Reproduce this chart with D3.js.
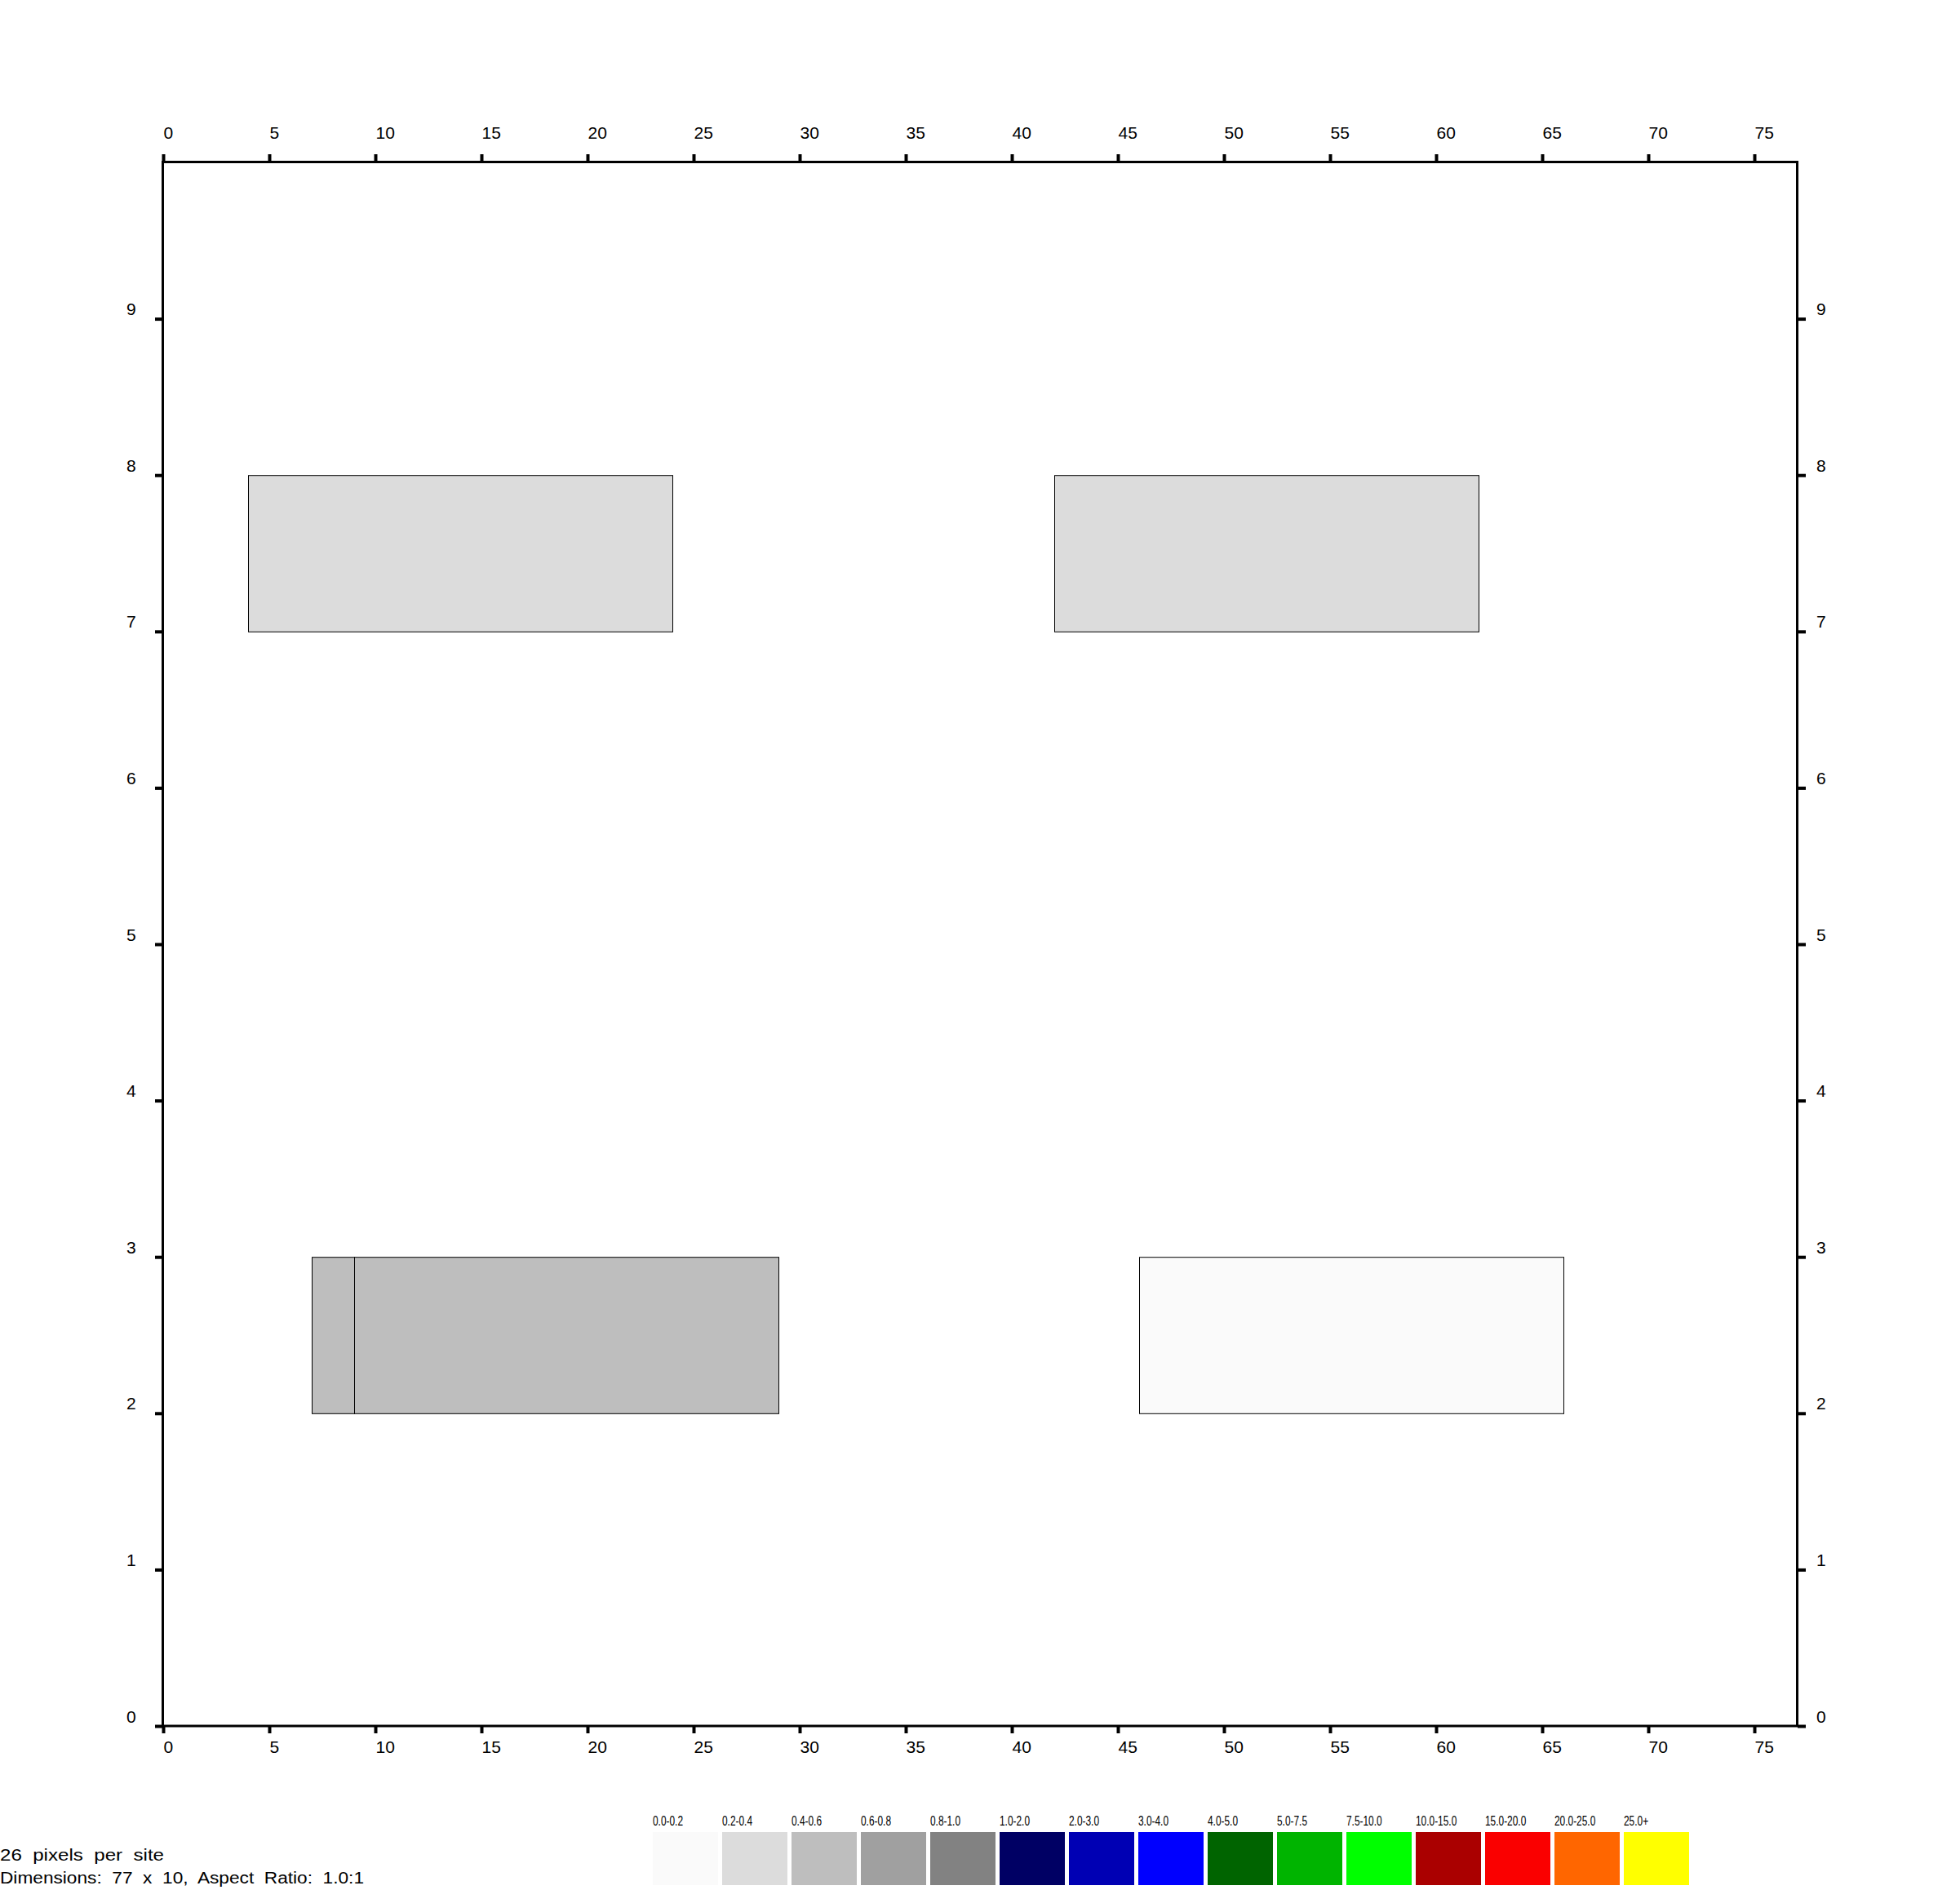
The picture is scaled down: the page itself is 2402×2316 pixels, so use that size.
<!DOCTYPE html>
<html>
<head>
<meta charset="utf-8">
<script src="https://cdn.jsdelivr.net/npm/d3@7"></script>
<style>
  html, body { margin: 0; padding: 0; background: #ffffff; }
  svg { display: block; font-family: "Liberation Sans", Arial, sans-serif; }
</style>
</head>
<body>
<svg id="chart" width="2402" height="2316"></svg>
<script>
// ---- data ----
const xTickValues = [0, 5, 10, 15, 20, 25, 30, 35, 40, 45, 50, 55, 60, 65, 70, 75];
const yTickValues = [0, 1, 2, 3, 4, 5, 6, 7, 8, 9];
const siteCountX = 77;
const siteCountY = 10;

// cells: left/right in x sites, bottom/top in y sites, legend bin
const cellX0 = [4, 42, 7, 9, 46];
const cellX1 = [24, 62, 9, 29, 66];
const cellY0 = [7, 7, 2, 2, 2];
const cellY1 = [8, 8, 3, 3, 3];
const cellBin = [1, 1, 2, 2, 0];

const legendLabels = ["0.0-0.2", "0.2-0.4", "0.4-0.6", "0.6-0.8", "0.8-1.0", "1.0-2.0", "2.0-3.0", "3.0-4.0",
  "4.0-5.0", "5.0-7.5", "7.5-10.0", "10.0-15.0", "15.0-20.0", "20.0-25.0", "25.0+"];
const legendColors = ["#fafafa", "#dcdcdc", "#bebebe", "#a0a0a0", "#828282", "#000064", "#0000b4", "#0000ff",
  "#006400", "#00b400", "#00ff00", "#aa0000", "#fa0000", "#ff6600", "#ffff00"];

const footerLines = ["26  pixels  per  site", "Dimensions:  77  x  10,  Aspect  Ratio:  1.0:1"];
const footerWidths = [201, 446];

// ---- drawing ----
const svg = d3.select("#chart");
const x = d3.scaleLinear().domain([0, siteCountX]).range([200, 2202]);
const y = d3.scaleLinear().domain([0, siteCountY]).range([2115, 199]);

// cells
svg.append("g").selectAll("rect")
  .data(cellX0.map((d, i) => i))
  .join("rect")
  .attr("x", i => x(cellX0[i]) + 0.5)
  .attr("y", i => y(cellY1[i]) + 0.5)
  .attr("width", i => x(cellX1[i]) - x(cellX0[i]))
  .attr("height", i => y(cellY0[i]) - y(cellY1[i]))
  .attr("fill", i => legendColors[cellBin[i]])
  .attr("stroke", "#000")
  .attr("stroke-width", 1);

// frame
svg.append("rect")
  .attr("x", x(0) - 0.5)
  .attr("y", y(siteCountY) - 0.5)
  .attr("width", x(siteCountX) - x(0) + 1)
  .attr("height", y(0) - y(siteCountY) + 0.5)
  .attr("fill", "none")
  .attr("stroke", "#000")
  .attr("stroke-width", 3);

function styleAxis(g) {
  g.select(".domain").remove();
  g.selectAll(".tick line").attr("stroke", "#000").attr("stroke-width", 4);
  g.selectAll(".tick text").attr("fill", "#000")
    .attr("font-family", "'Liberation Sans', Arial, sans-serif")
    .attr("font-size", 21);
}

// top axis
svg.append("g")
  .attr("transform", `translate(0,${y(siteCountY) - 1})`)
  .call(d3.axisTop(x).tickValues(xTickValues).tickSize(9).tickSizeOuter(0).tickFormat(d3.format("d")))
  .call(styleAxis)
  .call(g => g.selectAll(".tick text").attr("text-anchor", "start").attr("x", 0).attr("y", -28).attr("dy", 0));

// bottom axis
svg.append("g")
  .attr("transform", `translate(0,${y(0)})`)
  .call(d3.axisBottom(x).tickValues(xTickValues).tickSize(9).tickSizeOuter(0).tickFormat(d3.format("d")))
  .call(styleAxis)
  .call(g => g.selectAll(".tick text").attr("text-anchor", "start").attr("x", 0).attr("y", 33).attr("dy", 0));

// left axis
svg.append("g")
  .attr("transform", `translate(${x(0) - 1},0)`)
  .call(d3.axisLeft(y).tickValues(yTickValues).tickSize(9).tickSizeOuter(0).tickFormat(d3.format("d")))
  .call(styleAxis)
  .call(g => g.selectAll(".tick text").attr("text-anchor", "start").attr("x", -44).attr("y", -5).attr("dy", 0));

// right axis
svg.append("g")
  .attr("transform", `translate(${x(siteCountX) + 1},0)`)
  .call(d3.axisRight(y).tickValues(yTickValues).tickSize(10).tickSizeOuter(0).tickFormat(d3.format("d")))
  .call(styleAxis)
  .call(g => g.selectAll(".tick text").attr("text-anchor", "start").attr("x", 23).attr("y", -5).attr("dy", 0));

// legend
const legendX = d3.scaleBand().domain(legendLabels).range([800, 800 + 85 * legendLabels.length - 5]).paddingInner(5 / 85).paddingOuter(0);
const lg = svg.append("g");
lg.selectAll("rect").data(legendLabels).join("rect")
  .attr("x", d => legendX(d))
  .attr("y", 2245)
  .attr("width", legendX.bandwidth())
  .attr("height", 65)
  .attr("fill", (d, i) => legendColors[i]);
lg.selectAll("text").data(legendLabels).join("text")
  .attr("x", d => legendX(d))
  .attr("y", 2237)
  .attr("font-size", 17)
  .attr("fill", "#000")
  .text(d => d)
  .each(function() {
    const len = this.getComputedTextLength();
    d3.select(this).attr("textLength", len * 0.7).attr("lengthAdjust", "spacingAndGlyphs");
  });

// footer
svg.append("g").selectAll("text").data(footerLines).join("text")
  .attr("x", 0)
  .attr("y", (d, i) => 2280 + i * 28)
  .attr("font-size", 20)
  .attr("fill", "#000")
  .style("white-space", "pre")
  .attr("textLength", (d, i) => footerWidths[i])
  .attr("lengthAdjust", "spacingAndGlyphs")
  .text(d => d);
</script>
</body>
</html>
